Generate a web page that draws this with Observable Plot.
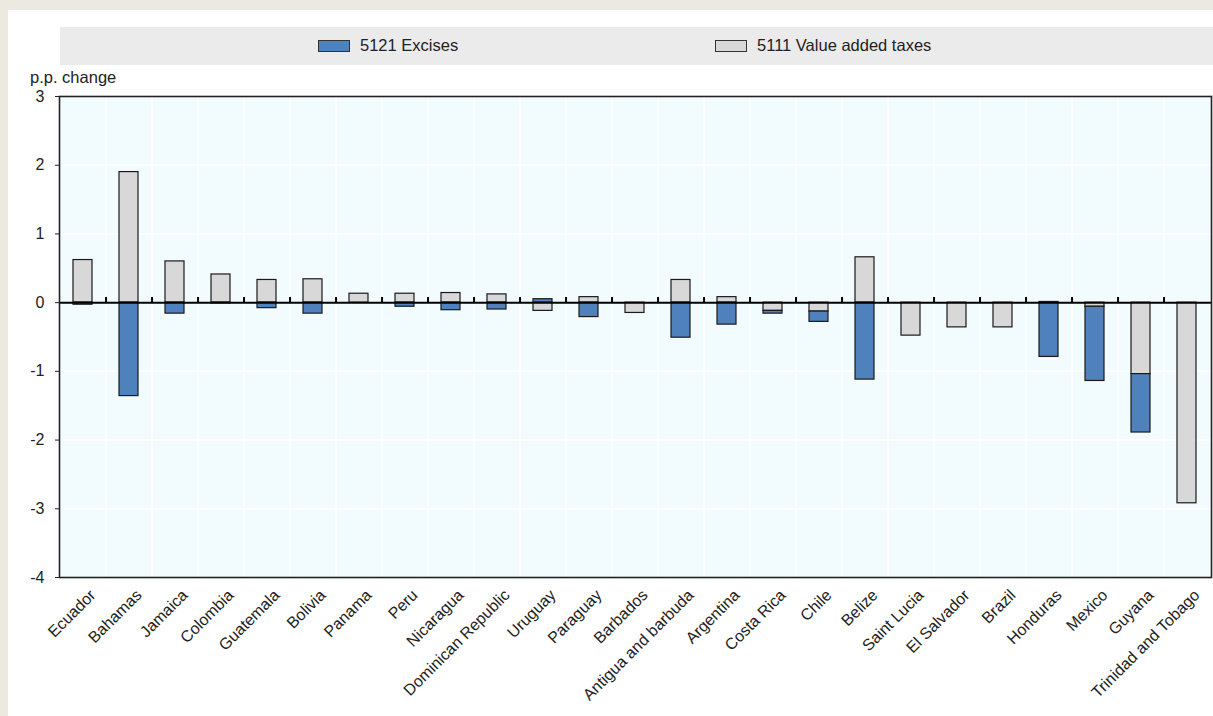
<!DOCTYPE html>
<html><head><meta charset="utf-8">
<script src="https://cdn.jsdelivr.net/npm/d3@7"></script>
<script src="https://cdn.jsdelivr.net/npm/@observablehq/plot@0.6"></script>
<style>
body{margin:0;background:#ECE9E0;width:1213px;height:716px;overflow:hidden;font-family:"Liberation Sans",Arial,sans-serif;position:relative;}
#card{position:absolute;left:8px;top:10px;width:1205px;height:706px;background:#fff;}
#legend{position:absolute;left:60px;top:27px;width:1153px;height:38px;background:#EBEBEB;}
.sw{position:absolute;top:13px;width:30px;height:10px;border:1px solid #333;}
.lt{position:absolute;top:10px;font-size:16.5px;line-height:17px;color:#222;white-space:nowrap;}
#ylab{position:absolute;left:30px;top:69px;font-size:16.5px;line-height:17px;color:#222;}
#chart{position:absolute;left:0;top:66px;}
</style></head>
<body>
<div id="card"></div>
<div id="legend"></div>
<div id="ylab">p.p. change</div>
<div id="chart"></div>
<script>
const countries = ["Ecuador","Bahamas","Jamaica","Colombia","Guatemala","Bolivia","Panama","Peru","Nicaragua","Dominican Republic","Uruguay","Paraguay","Barbados","Antigua and barbuda","Argentina","Costa Rica","Chile","Belize","Saint Lucia","El Salvador","Brazil","Honduras","Mexico","Guyana","Trinidad and Tobago"];
const vat = [0.62, 1.90, 0.60, 0.41, 0.33, 0.34, 0.13, 0.13, 0.14, 0.12, -0.12, 0.08, -0.15, 0.33, 0.08, -0.12, -0.13, 0.66, -0.48, -0.36, -0.36, 0.01, -0.06, -1.04, -2.92];
const excises = [-0.03, -1.36, -0.16, -0.01, -0.08, -0.16, 0, -0.06, -0.11, -0.10, 0.05, -0.21, 0, -0.51, -0.32, -0.04, -0.15, -1.12, 0, 0, 0, -0.79, -1.08, -0.85, 0];
const seriesNames = ["5111 Value added taxes", "5121 Excises"];
const seriesColors = ["#D8D8D8", "#4F81BD"];
const legendOrder = ["5121 Excises", "5111 Value added taxes"];
const yTicks = [-4, -3, -2, -1, 0, 1, 2, 3];

const rows = [];
countries.forEach((c, i) => { if (vat[i] !== 0) rows.push({country: c, series: seriesNames[0], value: vat[i]}); });
countries.forEach((c, i) => { if (excises[i] !== 0) rows.push({country: c, series: seriesNames[1], value: excises[i]}); });

// legend
const legend = document.getElementById("legend");
const legendX = [258, 655];
legendOrder.forEach((name, k) => {
  const sw = document.createElement("div");
  sw.className = "sw";
  sw.style.left = legendX[k] + "px";
  sw.style.background = seriesColors[seriesNames.indexOf(name)];
  legend.appendChild(sw);
  const t = document.createElement("div");
  t.className = "lt";
  t.style.left = (legendX[k] + 42) + "px";
  t.textContent = name;
  legend.appendChild(t);
});

const width = 1213, height = 650, mL = 59, mR = 2, mT = 30, mB = 139;
const step = (width - mL - mR) / countries.length;

const chart = Plot.plot({
  width, height, marginLeft: mL, marginRight: mR, marginTop: mT, marginBottom: mB,
  style: {fontFamily: "Liberation Sans, Arial, sans-serif", fontSize: "16px", color: "#222", background: "transparent"},
  x: {type: "band", domain: countries, paddingInner: 0.58, paddingOuter: 0.29, label: null, axis: null},
  y: {domain: [-4, 3], ticks: yTicks, label: null},
  color: {domain: seriesNames, range: seriesColors},
  marks: [
    Plot.frame({fill: "#F2FCFF"}),
    Plot.gridY(yTicks, {stroke: "#fff", strokeOpacity: 1, strokeWidth: 1.5}),
    Plot.ruleX(countries.slice(0, -1), {x: d => d, dx: step / 2, stroke: "#fff", strokeWidth: 1.5}),
    Plot.barY(rows, {x: "country", y: "value", fill: "series", stroke: "#1a1a1a", strokeWidth: 1.2}),
    Plot.ruleY([0], {stroke: "#000", strokeWidth: 2}),
    Plot.ruleX(countries.slice(0, -1), {x: d => d, dx: step / 2, y1: 0, y2: 0.075, stroke: "#000", strokeWidth: 2}),
    Plot.frame({stroke: "#222", strokeWidth: 1.6}),
    Plot.axisY(yTicks, {tickSize: 4, tickPadding: 11, label: null, tickFormat: d => String(d), stroke: "#222"}),
    Plot.text(countries, {x: d => d, frameAnchor: "bottom", rotate: -45, textAnchor: "end", lineAnchor: "middle", dx: 10, dy: 15, fontSize: 16, fill: "#222"})
  ]
});
document.getElementById("chart").appendChild(chart);
</script>
</body></html>
